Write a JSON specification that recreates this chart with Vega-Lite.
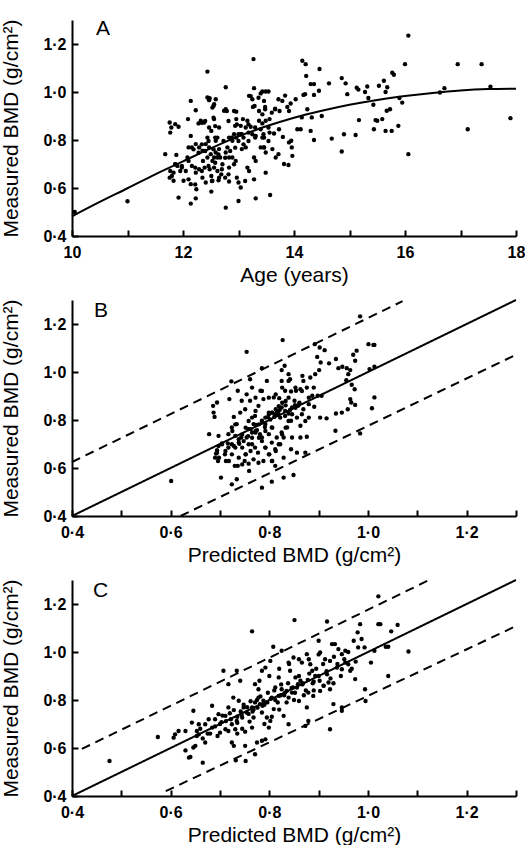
{
  "$schema": "https://vega.github.io/schema/vega-lite/v6.json",
  "background": "white",
  "padding": {"left": 0, "top": 18, "right": 0, "bottom": 0},
  "spacing": 64,
  "bounds": "flush",
  "config": {
    "view": {"stroke": null},
    "axis": {"domainColor": "black", "domainWidth": 2, "tickColor": "black", "tickWidth": 2, "tickSize": -6, "labelFont": "Liberation Sans", "labelFontSize": 16, "labelFontWeight": "bold", "labelColor": "black", "titleFont": "Liberation Sans", "titleFontSize": 21, "titleFontWeight": "normal", "titleColor": "black", "grid": false, "labelFlush": false, "labelOverlap": false},
    "axisY": {"titlePadding": 21, "labelPadding": 12},
    "axisX": {"titlePadding": 4, "labelPadding": 14}
  },
  "datasets": {
    "a": [
{"age":11.0,"bmd":0.545},{"age":10.05,"bmd":0.5},{"age":16.06,"bmd":1.235},{"age":16.0,"bmd":1.116},{"age":16.95,"bmd":1.116},{"age":17.38,"bmd":1.116},{"age":16.71,"bmd":1.016},{"age":17.54,"bmd":1.022},{"age":17.13,"bmd":0.845},{"age":17.9,"bmd":0.891},{"age":16.06,"bmd":0.741},{"age":15.95,"bmd":0.956},{"age":15.9,"bmd":0.975},{"age":16.63,"bmd":0.998},
{"age":14.86,"bmd":1.058},{"age":14.93,"bmd":1.036},{"age":14.96,"bmd":0.991},{"age":14.9,"bmd":0.824},{"age":14.86,"bmd":0.752},{"age":15.11,"bmd":0.821},{"age":15.17,"bmd":0.883},{"age":15.13,"bmd":1.018},{"age":15.16,"bmd":1.01},{"age":15.28,"bmd":1.0},{"age":15.32,"bmd":1.023},{"age":15.34,"bmd":0.975},{"age":15.43,"bmd":0.947},{"age":15.44,"bmd":0.845},{"age":15.47,"bmd":0.883},{"age":15.5,"bmd":0.88},{"age":15.53,"bmd":1.026},{"age":15.62,"bmd":1.047},{"age":15.65,"bmd":1.0},{"age":15.59,"bmd":0.887},{"age":15.65,"bmd":0.838},{"age":15.67,"bmd":0.922},{"age":15.73,"bmd":0.928},{"age":15.76,"bmd":0.838},{"age":15.77,"bmd":1.08},{"age":15.8,"bmd":1.072},{"age":15.88,"bmd":0.859},{"age":15.68,"bmd":1.02},
{"age":14.15,"bmd":1.13},{"age":14.21,"bmd":1.116},{"age":14.22,"bmd":1.067},{"age":14.3,"bmd":1.033},{"age":14.36,"bmd":1.033},{"age":14.45,"bmd":1.005},{"age":14.46,"bmd":1.096},{"age":14.63,"bmd":1.036},{"age":14.68,"bmd":0.806},{"age":14.5,"bmd":0.9},{"age":14.32,"bmd":0.894},{"age":14.3,"bmd":0.838},{"age":14.36,"bmd":0.8},{"age":14.2,"bmd":0.991},{"age":14.17,"bmd":0.988},{"age":14.24,"bmd":0.928},{"age":14.12,"bmd":0.845},{"age":14.06,"bmd":0.845},{"age":14.03,"bmd":0.97},{"age":14.36,"bmd":0.988},{"age":14.14,"bmd":0.894},
{"age":13.96,"bmd":0.769},{"age":13.97,"bmd":0.734},{"age":13.9,"bmd":0.696},{"age":13.82,"bmd":0.7},{"age":13.8,"bmd":0.813},{"age":13.91,"bmd":0.79},{"age":13.95,"bmd":0.797},{"age":13.91,"bmd":0.921},{"age":13.94,"bmd":0.952},{"age":13.88,"bmd":0.938},{"age":13.84,"bmd":0.985},{"age":13.79,"bmd":0.963},{"age":13.74,"bmd":0.921},{"age":13.72,"bmd":0.97},{"age":13.73,"bmd":0.845},{"age":13.64,"bmd":0.827},{"age":13.67,"bmd":0.727},{"age":13.61,"bmd":0.762},{"age":13.72,"bmd":0.741},{"age":13.66,"bmd":0.928},{"age":13.6,"bmd":0.914},{"age":13.56,"bmd":0.887},{"age":13.54,"bmd":0.852},{"age":13.56,"bmd":0.831},{"age":13.57,"bmd":0.571},{"age":13.49,"bmd":0.664},{"age":13.46,"bmd":0.769},{"age":13.46,"bmd":0.81},{"age":13.48,"bmd":0.928},
{"age":13.27,"bmd":1.137},{"age":13.28,"bmd":1.016},{"age":13.25,"bmd":0.97},{"age":13.26,"bmd":0.938},{"age":13.19,"bmd":0.984},{"age":13.43,"bmd":1.002},{"age":13.49,"bmd":1.002},{"age":13.54,"bmd":1.002},{"age":13.4,"bmd":0.994},{"age":13.46,"bmd":0.963},{"age":13.37,"bmd":0.921},{"age":13.43,"bmd":0.907},{"age":13.37,"bmd":0.88},{"age":13.43,"bmd":0.869},{"age":13.49,"bmd":0.88},{"age":13.4,"bmd":0.845},{"age":13.3,"bmd":0.852},{"age":13.25,"bmd":0.824},{"age":13.22,"bmd":0.855},{"age":13.18,"bmd":0.831},{"age":13.31,"bmd":0.817},{"age":13.43,"bmd":0.81},{"age":13.4,"bmd":0.769},{"age":13.46,"bmd":0.769},{"age":13.49,"bmd":0.748},{"age":13.28,"bmd":0.727},{"age":13.31,"bmd":0.713},{"age":13.13,"bmd":0.769},{"age":13.16,"bmd":0.685},{"age":13.19,"bmd":0.671},{"age":13.28,"bmd":0.636},{"age":13.31,"bmd":0.557},{"age":13.06,"bmd":0.762},{"age":13.09,"bmd":0.81},{"age":13.04,"bmd":0.824},{"age":13.13,"bmd":0.852},{"age":13.16,"bmd":0.88},{"age":13.08,"bmd":0.887},{"age":13.04,"bmd":0.859},
{"age":12.77,"bmd":1.02},{"age":12.77,"bmd":0.928},{"age":12.74,"bmd":0.922},{"age":12.92,"bmd":0.921},{"age":12.96,"bmd":0.887},{"age":12.94,"bmd":0.859},{"age":13.0,"bmd":0.824},{"age":12.92,"bmd":0.824},{"age":12.96,"bmd":0.81},{"age":12.89,"bmd":0.797},{"age":12.83,"bmd":0.81},{"age":12.8,"bmd":0.769},{"age":12.77,"bmd":0.748},{"age":12.83,"bmd":0.727},{"age":12.89,"bmd":0.727},{"age":12.95,"bmd":0.713},{"age":12.92,"bmd":0.699},{"age":12.83,"bmd":0.685},{"age":12.83,"bmd":0.627},{"age":12.76,"bmd":0.643},{"age":12.69,"bmd":0.657},{"age":13.0,"bmd":0.623},{"age":13.04,"bmd":0.602},{"age":13.0,"bmd":0.546},{"age":12.77,"bmd":0.518},{"age":12.71,"bmd":0.699},{"age":12.67,"bmd":0.727},{"age":12.65,"bmd":0.762},{"age":12.62,"bmd":0.81},{"age":12.59,"bmd":0.797},{"age":12.65,"bmd":0.852},{"age":12.56,"bmd":0.887},{"age":12.53,"bmd":0.935},{"age":12.56,"bmd":0.949},{"age":12.59,"bmd":0.97},{"age":12.47,"bmd":0.966},{"age":12.44,"bmd":0.977},
{"age":12.44,"bmd":1.085},{"age":12.38,"bmd":0.873},{"age":12.32,"bmd":0.88},{"age":12.28,"bmd":0.869},{"age":12.23,"bmd":0.924},{"age":12.14,"bmd":0.963},{"age":12.09,"bmd":0.887},{"age":12.14,"bmd":0.817},{"age":12.1,"bmd":0.769},{"age":12.16,"bmd":0.769},{"age":12.23,"bmd":0.783},{"age":12.29,"bmd":0.769},{"age":12.35,"bmd":0.755},{"age":12.41,"bmd":0.783},{"age":12.44,"bmd":0.81},{"age":12.47,"bmd":0.769},{"age":12.5,"bmd":0.741},{"age":12.44,"bmd":0.727},{"age":12.36,"bmd":0.713},{"age":12.39,"bmd":0.685},{"age":12.29,"bmd":0.678},{"age":12.23,"bmd":0.664},{"age":12.16,"bmd":0.692},{"age":12.08,"bmd":0.727},{"age":12.05,"bmd":0.671},{"age":12.14,"bmd":0.616},{"age":12.24,"bmd":0.595},{"age":12.35,"bmd":0.643},{"age":12.41,"bmd":0.623},{"age":12.48,"bmd":0.678},{"age":12.51,"bmd":0.65},{"age":12.53,"bmd":0.63},{"age":12.51,"bmd":0.585},{"age":12.14,"bmd":0.535},{"age":12.23,"bmd":0.557},{"age":12.53,"bmd":0.713},{"age":12.56,"bmd":0.727},{"age":12.59,"bmd":0.748},{"age":12.62,"bmd":0.727},{"age":12.56,"bmd":0.685},{"age":12.62,"bmd":0.671},{"age":12.65,"bmd":0.643},{"age":12.51,"bmd":0.838},{"age":12.47,"bmd":0.852},
{"age":11.76,"bmd":0.873},{"age":11.79,"bmd":0.852},{"age":11.77,"bmd":0.831},{"age":11.86,"bmd":0.866},{"age":11.92,"bmd":0.855},{"age":11.68,"bmd":0.741},{"age":11.88,"bmd":0.738},{"age":11.86,"bmd":0.699},{"age":11.9,"bmd":0.692},{"age":11.77,"bmd":0.671},{"age":11.8,"bmd":0.65},{"age":11.83,"bmd":0.664},{"age":11.76,"bmd":0.643},{"age":11.83,"bmd":0.63},{"age":11.92,"bmd":0.56},{"age":11.98,"bmd":0.692},{"age":12.01,"bmd":0.63},{"age":11.95,"bmd":0.671},
{"age":12.48,"bmd":0.974},{"age":12.55,"bmd":0.942},{"age":12.79,"bmd":0.921},{"age":12.96,"bmd":0.918},{"age":13.22,"bmd":0.983},{"age":13.36,"bmd":0.976},{"age":13.29,"bmd":0.942},{"age":13.48,"bmd":0.938},{"age":13.66,"bmd":0.93},{"age":12.34,"bmd":0.872},{"age":12.4,"bmd":0.879},{"age":12.55,"bmd":0.893},{"age":12.58,"bmd":0.858},{"age":12.82,"bmd":0.879},{"age":12.97,"bmd":0.865},{"age":13.18,"bmd":0.865},{"age":13.06,"bmd":0.824},{"age":13.0,"bmd":0.796},{"age":12.88,"bmd":0.81},{"age":12.73,"bmd":0.796},{"age":12.58,"bmd":0.81},{"age":12.46,"bmd":0.796},{"age":12.34,"bmd":0.782},{"age":12.19,"bmd":0.761},{"age":12.28,"bmd":0.747},{"age":12.4,"bmd":0.754},{"age":12.55,"bmd":0.761},{"age":12.64,"bmd":0.74},{"age":12.76,"bmd":0.726},{"age":12.85,"bmd":0.754},{"age":12.94,"bmd":0.768},{"age":13.09,"bmd":0.782},{"age":13.18,"bmd":0.796},{"age":13.3,"bmd":0.81},{"age":13.45,"bmd":0.824},{"age":13.54,"bmd":0.796},{"age":12.1,"bmd":0.713},{"age":11.98,"bmd":0.685},{"age":11.86,"bmd":0.699},{"age":12.22,"bmd":0.685},{"age":12.34,"bmd":0.671},{"age":12.46,"bmd":0.692},{"age":12.58,"bmd":0.705},{"age":12.7,"bmd":0.678},{"age":12.82,"bmd":0.657},{"age":12.97,"bmd":0.643},{"age":13.12,"bmd":0.629},{"age":12.1,"bmd":0.636},{"age":12.22,"bmd":0.615},{"age":12.52,"bmd":0.629},{"age":12.64,"bmd":0.632}
    ],
    "curveA": [
{"age":10,"bmd":0.482},{"age":10.5,"bmd":0.542},{"age":11,"bmd":0.599},{"age":11.5,"bmd":0.657},{"age":12,"bmd":0.711},{"age":12.5,"bmd":0.765},{"age":13,"bmd":0.815},{"age":13.5,"bmd":0.857},{"age":14,"bmd":0.893},{"age":14.5,"bmd":0.922},{"age":15,"bmd":0.947},{"age":15.5,"bmd":0.967},{"age":16,"bmd":0.983},{"age":16.5,"bmd":0.996},{"age":17,"bmd":1.006},{"age":17.5,"bmd":1.012},{"age":18,"bmd":1.014}
    ],
    "b": [
{"pred":0.601,"bmd":0.546},{"pred":0.984,"bmd":1.232},{"pred":0.827,"bmd":1.133},{"pred":0.754,"bmd":1.084},{"pred":1.001,"bmd":1.116},{"pred":1.011,"bmd":1.113},{"pred":1.013,"bmd":1.113},{"pred":1.003,"bmd":1.012},{"pred":1.013,"bmd":1.022},{"pred":1.013,"bmd":0.894},{"pred":1.008,"bmd":0.849},{"pred":0.984,"bmd":0.744},{"pred":0.785,"bmd":0.518},{"pred":0.805,"bmd":0.543},{"pred":0.829,"bmd":0.56},{"pred":0.849,"bmd":0.571},{"pred":0.702,"bmd":0.56},{"pred":0.734,"bmd":0.553},{"pred":0.724,"bmd":0.532},{"pred":0.759,"bmd":0.588},{"pred":0.736,"bmd":0.609},{"pred":0.678,"bmd":0.741},{"pred":0.686,"bmd":0.859},{"pred":0.687,"bmd":0.831},{"pred":0.689,"bmd":0.813},{"pred":0.694,"bmd":0.873},{"pred":0.723,"bmd":0.961},{"pred":0.719,"bmd":0.887},{"pred":0.697,"bmd":0.734},{"pred":0.694,"bmd":0.674},{"pred":0.692,"bmd":0.66},{"pred":0.69,"bmd":0.643},{"pred":0.696,"bmd":0.629},{"pred":0.704,"bmd":0.702},{"pred":0.697,"bmd":0.692},{"pred":0.717,"bmd":0.685},{"pred":0.712,"bmd":0.629},{"pred":0.73,"bmd":0.609},
{"pred":0.892,"bmd":1.116},{"pred":0.902,"bmd":1.102},{"pred":0.912,"bmd":1.091},{"pred":0.897,"bmd":1.063},{"pred":0.904,"bmd":1.04},{"pred":0.901,"bmd":1.008},{"pred":0.893,"bmd":0.991},{"pred":0.883,"bmd":0.977},{"pred":0.867,"bmd":0.984},{"pred":0.869,"bmd":0.963},{"pred":0.876,"bmd":0.935},{"pred":0.863,"bmd":0.928},{"pred":0.854,"bmd":0.922},{"pred":0.844,"bmd":0.919},{"pred":0.89,"bmd":0.935},{"pred":0.898,"bmd":0.901},{"pred":0.906,"bmd":0.901},{"pred":0.887,"bmd":0.901},{"pred":0.921,"bmd":1.036},{"pred":0.935,"bmd":1.054},{"pred":0.94,"bmd":1.016},{"pred":0.948,"bmd":1.022},{"pred":0.957,"bmd":1.016},{"pred":0.964,"bmd":1.008},{"pred":0.96,"bmd":0.991},{"pred":0.956,"bmd":0.966},{"pred":0.967,"bmd":0.947},{"pred":0.973,"bmd":0.928},{"pred":0.974,"bmd":1.047},{"pred":0.977,"bmd":1.089},{"pred":0.97,"bmd":1.072},{"pred":0.964,"bmd":0.887},{"pred":0.966,"bmd":0.873},{"pred":0.959,"bmd":0.845},{"pred":0.974,"bmd":0.863},{"pred":0.947,"bmd":0.831},{"pred":0.935,"bmd":0.827},{"pred":0.934,"bmd":0.755},{"pred":0.903,"bmd":0.81},{"pred":0.916,"bmd":0.807},{"pred":0.891,"bmd":0.855},{"pred":0.88,"bmd":0.81},{"pred":0.876,"bmd":0.73},{"pred":0.873,"bmd":0.664},{"pred":0.856,"bmd":0.664},{"pred":0.863,"bmd":0.727},{"pred":0.863,"bmd":0.776},
{"pred":0.839,"bmd":0.991},{"pred":0.842,"bmd":0.97},{"pred":0.825,"bmd":1.008},{"pred":0.831,"bmd":1.026},{"pred":0.825,"bmd":0.963},{"pred":0.832,"bmd":0.922},{"pred":0.82,"bmd":0.891},{"pred":0.809,"bmd":0.894},{"pred":0.825,"bmd":0.852},{"pred":0.832,"bmd":0.838},{"pred":0.815,"bmd":0.838},{"pred":0.805,"bmd":0.831},{"pred":0.81,"bmd":0.813},{"pred":0.822,"bmd":0.81},{"pred":0.832,"bmd":0.817},{"pred":0.839,"bmd":0.827},{"pred":0.846,"bmd":0.852},{"pred":0.851,"bmd":0.88},{"pred":0.858,"bmd":0.859},{"pred":0.844,"bmd":0.797},{"pred":0.836,"bmd":0.769},{"pred":0.825,"bmd":0.748},{"pred":0.829,"bmd":0.727},{"pred":0.822,"bmd":0.699},{"pred":0.846,"bmd":0.727},{"pred":0.844,"bmd":0.678},{"pred":0.829,"bmd":0.643},{"pred":0.805,"bmd":0.629},{"pred":0.812,"bmd":0.609},{"pred":0.8,"bmd":0.657},{"pred":0.792,"bmd":0.685},{"pred":0.785,"bmd":0.727},{"pred":0.799,"bmd":0.741},{"pred":0.805,"bmd":0.769},{"pred":0.792,"bmd":0.783},{"pred":0.785,"bmd":0.797},{"pred":0.799,"bmd":0.831},{"pred":0.785,"bmd":1.016},{"pred":0.795,"bmd":0.963},{"pred":0.782,"bmd":0.922},{"pred":0.788,"bmd":0.887},{"pred":0.778,"bmd":0.859},{"pred":0.771,"bmd":0.817},{"pred":0.768,"bmd":0.783},{"pred":0.775,"bmd":0.758},{"pred":0.765,"bmd":0.748},{"pred":0.758,"bmd":0.762},{"pred":0.754,"bmd":0.727},{"pred":0.765,"bmd":0.699},{"pred":0.771,"bmd":0.685},{"pred":0.777,"bmd":0.664},{"pred":0.762,"bmd":0.671},{"pred":0.752,"bmd":0.657},{"pred":0.745,"bmd":0.685},{"pred":0.738,"bmd":0.706},{"pred":0.731,"bmd":0.734},{"pred":0.724,"bmd":0.769},{"pred":0.734,"bmd":0.783},{"pred":0.728,"bmd":0.813},{"pred":0.741,"bmd":0.831},{"pred":0.751,"bmd":0.845},{"pred":0.761,"bmd":0.88},{"pred":0.754,"bmd":0.907},{"pred":0.744,"bmd":0.88},{"pred":0.736,"bmd":0.922},{"pred":0.761,"bmd":0.97},{"pred":0.765,"bmd":0.935},{"pred":0.743,"bmd":0.727},{"pred":0.75,"bmd":0.629},{"pred":0.768,"bmd":0.636},{"pred":0.758,"bmd":0.618},{"pred":0.724,"bmd":0.657},{"pred":0.717,"bmd":0.741},{"pred":0.724,"bmd":0.699},{"pred":0.71,"bmd":0.657},{"pred":0.788,"bmd":0.629},{"pred":0.778,"bmd":0.622},{"pred":0.805,"bmd":0.706},{"pred":0.815,"bmd":0.727},{"pred":0.812,"bmd":0.678},{"pred":0.856,"bmd":0.81},{"pred":0.869,"bmd":0.845},{"pred":0.88,"bmd":0.866},
{"pred":0.762,"bmd":0.762},{"pred":0.772,"bmd":0.748},{"pred":0.781,"bmd":0.741},{"pred":0.791,"bmd":0.771},{"pred":0.802,"bmd":0.802},{"pred":0.812,"bmd":0.823},{"pred":0.821,"bmd":0.842},{"pred":0.833,"bmd":0.861},{"pred":0.842,"bmd":0.842},{"pred":0.852,"bmd":0.862},{"pred":0.861,"bmd":0.872},{"pred":0.818,"bmd":0.828},{"pred":0.797,"bmd":0.812},{"pred":0.786,"bmd":0.79},{"pred":0.773,"bmd":0.779},{"pred":0.757,"bmd":0.733},{"pred":0.748,"bmd":0.712},{"pred":0.739,"bmd":0.701},{"pred":0.728,"bmd":0.692},{"pred":0.716,"bmd":0.702},
{"pred":0.704,"bmd":0.699},{"pred":0.711,"bmd":0.671},{"pred":0.694,"bmd":0.664},{"pred":0.698,"bmd":0.643},{"pred":0.718,"bmd":0.629},{"pred":0.731,"bmd":0.685},{"pred":0.738,"bmd":0.643},{"pred":0.745,"bmd":0.615},{"pred":0.752,"bmd":0.657},{"pred":0.758,"bmd":0.699},{"pred":0.765,"bmd":0.726},{"pred":0.772,"bmd":0.754},{"pred":0.779,"bmd":0.782},{"pred":0.785,"bmd":0.796},{"pred":0.792,"bmd":0.81},{"pred":0.799,"bmd":0.824},{"pred":0.806,"bmd":0.831},{"pred":0.813,"bmd":0.845},{"pred":0.819,"bmd":0.858},{"pred":0.826,"bmd":0.872},{"pred":0.833,"bmd":0.879},{"pred":0.839,"bmd":0.893},{"pred":0.779,"bmd":0.726},{"pred":0.785,"bmd":0.712},{"pred":0.792,"bmd":0.685},{"pred":0.799,"bmd":0.657},{"pred":0.806,"bmd":0.629},{"pred":0.813,"bmd":0.671},{"pred":0.819,"bmd":0.699},{"pred":0.826,"bmd":0.74},{"pred":0.833,"bmd":0.768},{"pred":0.839,"bmd":0.796},{"pred":0.846,"bmd":0.824},{"pred":0.853,"bmd":0.851},{"pred":0.86,"bmd":0.865},{"pred":0.866,"bmd":0.824},{"pred":0.873,"bmd":0.796},{"pred":0.772,"bmd":0.838},{"pred":0.765,"bmd":0.81},{"pred":0.758,"bmd":0.796},{"pred":0.752,"bmd":0.768},{"pred":0.745,"bmd":0.74},{"pred":0.738,"bmd":0.72},{"pred":0.725,"bmd":0.754},{"pred":0.731,"bmd":0.782},{"pred":0.772,"bmd":0.893},{"pred":0.785,"bmd":0.921},{"pred":0.799,"bmd":0.893},{"pred":0.813,"bmd":0.907},{"pred":0.826,"bmd":0.935},{"pred":0.839,"bmd":0.963},{"pred":0.853,"bmd":0.935},{"pred":0.866,"bmd":0.921},{"pred":0.88,"bmd":0.893},{"pred":0.806,"bmd":0.768},{"pred":0.792,"bmd":0.754}
    ],
    "linesB": [
{"pred":0.4,"bmd":0.4,"kind":"fit"},{"pred":1.3,"bmd":1.3,"kind":"fit"},
{"pred":0.4,"bmd":0.625,"kind":"upper"},{"pred":1.07,"bmd":1.295,"kind":"upper"},
{"pred":0.62,"bmd":0.4,"kind":"lower"},{"pred":1.3,"bmd":1.072,"kind":"lower"}
    ],
    "c": [
{"pred":0.476,"bmd":0.546},{"pred":0.574,"bmd":0.646},{"pred":1.021,"bmd":1.232},{"pred":0.851,"bmd":1.133},{"pred":0.765,"bmd":1.086},{"pred":0.917,"bmd":1.127},{"pred":0.984,"bmd":1.116},{"pred":1.021,"bmd":1.116},{"pred":1.025,"bmd":1.116},{"pred":1.06,"bmd":1.113},{"pred":1.047,"bmd":1.086},{"pred":1.082,"bmd":1.002},{"pred":1.006,"bmd":0.956},{"pred":1.013,"bmd":1.005},{"pred":0.993,"bmd":1.019},{"pred":0.987,"bmd":1.054},{"pred":1.036,"bmd":1.022},{"pred":1.041,"bmd":1.022},{"pred":1.041,"bmd":0.9},{"pred":0.994,"bmd":0.845},{"pred":0.995,"bmd":0.796},{"pred":0.923,"bmd":0.678},{"pred":0.873,"bmd":0.692},{"pred":0.879,"bmd":0.713},{"pred":0.829,"bmd":0.734},{"pred":0.839,"bmd":0.699},{"pred":0.771,"bmd":0.574},{"pred":0.752,"bmd":0.546},{"pred":0.732,"bmd":0.549},{"pred":0.724,"bmd":0.623},{"pred":0.728,"bmd":0.609},{"pred":0.751,"bmd":0.609},{"pred":0.775,"bmd":0.623},{"pred":0.785,"bmd":0.63},{"pred":0.792,"bmd":0.636},{"pred":0.665,"bmd":0.539},{"pred":0.64,"bmd":0.563},{"pred":0.637,"bmd":0.56},{"pred":0.63,"bmd":0.59},{"pred":0.609,"bmd":0.657},{"pred":0.606,"bmd":0.643},{"pred":0.616,"bmd":0.671},{"pred":0.63,"bmd":0.671},{"pred":0.646,"bmd":0.755},{"pred":0.643,"bmd":0.706},{"pred":0.657,"bmd":0.699},{"pred":0.653,"bmd":0.671},{"pred":0.657,"bmd":0.657},{"pred":0.653,"bmd":0.65},{"pred":0.67,"bmd":0.699},{"pred":0.67,"bmd":0.623},{"pred":0.65,"bmd":0.609},{"pred":0.646,"bmd":0.602},{"pred":0.684,"bmd":0.776},{"pred":0.677,"bmd":0.72},{"pred":0.684,"bmd":0.685},{"pred":0.697,"bmd":0.741},{"pred":0.7,"bmd":0.664},{"pred":0.711,"bmd":0.678},{"pred":0.717,"bmd":0.671},{"pred":0.711,"bmd":0.734},{"pred":0.717,"bmd":0.769},{"pred":0.707,"bmd":0.922},{"pred":0.734,"bmd":0.922},{"pred":0.717,"bmd":0.866},{"pred":0.741,"bmd":0.88},{"pred":0.727,"bmd":0.81},{"pred":0.738,"bmd":0.797},{"pred":0.748,"bmd":0.769},{"pred":0.754,"bmd":0.748},{"pred":0.745,"bmd":0.727},{"pred":0.734,"bmd":0.713},{"pred":0.724,"bmd":0.699},{"pred":0.731,"bmd":0.678},{"pred":0.751,"bmd":0.668},{"pred":0.765,"bmd":0.685},{"pred":0.768,"bmd":0.727},{"pred":0.765,"bmd":0.769},{"pred":0.771,"bmd":0.79},{"pred":0.781,"bmd":0.783},{"pred":0.778,"bmd":0.81},{"pred":0.788,"bmd":0.797},{"pred":0.785,"bmd":0.748},{"pred":0.795,"bmd":0.727},{"pred":0.799,"bmd":0.685},{"pred":0.802,"bmd":0.713},{"pred":0.809,"bmd":0.762},{"pred":0.771,"bmd":0.866},{"pred":0.778,"bmd":0.845},{"pred":0.785,"bmd":0.922},{"pred":0.792,"bmd":0.935},{"pred":0.808,"bmd":1.022},{"pred":0.802,"bmd":0.963},{"pred":0.819,"bmd":0.894},{"pred":0.812,"bmd":0.852},{"pred":0.805,"bmd":0.81},{"pred":0.819,"bmd":0.817},{"pred":0.825,"bmd":0.845},{"pred":0.832,"bmd":0.831},{"pred":0.839,"bmd":0.81},{"pred":0.846,"bmd":0.831},{"pred":0.825,"bmd":1.005},{"pred":0.839,"bmd":0.956},{"pred":0.849,"bmd":0.977},{"pred":0.842,"bmd":0.922},{"pred":0.853,"bmd":0.894},{"pred":0.863,"bmd":0.88},{"pred":0.856,"bmd":0.852},{"pred":0.866,"bmd":0.956},{"pred":0.876,"bmd":0.991},{"pred":0.883,"bmd":0.949},{"pred":0.887,"bmd":0.922},{"pred":0.893,"bmd":0.9},{"pred":0.879,"bmd":0.831},{"pred":0.889,"bmd":0.817},{"pred":0.903,"bmd":0.838},{"pred":0.91,"bmd":0.859},{"pred":0.9,"bmd":1.047},{"pred":0.903,"bmd":0.998},{"pred":0.913,"bmd":0.97},{"pred":0.923,"bmd":0.963},{"pred":0.927,"bmd":1.033},{"pred":0.933,"bmd":1.033},{"pred":0.94,"bmd":1.012},{"pred":0.947,"bmd":0.991},{"pred":0.954,"bmd":1.005},{"pred":0.937,"bmd":0.935},{"pred":0.947,"bmd":0.928},{"pred":0.96,"bmd":0.949},{"pred":0.964,"bmd":0.922},{"pred":0.974,"bmd":0.887},{"pred":0.917,"bmd":0.907},{"pred":0.923,"bmd":0.845},{"pred":0.92,"bmd":0.873},{"pred":0.93,"bmd":0.783},{"pred":0.947,"bmd":0.769},{"pred":0.947,"bmd":0.755},{"pred":0.971,"bmd":1.047},{"pred":0.979,"bmd":1.082},{"pred":0.98,"bmd":1.019},{"pred":0.954,"bmd":0.956},{"pred":0.876,"bmd":0.769},{"pred":0.86,"bmd":0.796},
{"pred":0.758,"bmd":0.742},{"pred":0.766,"bmd":0.752},{"pred":0.776,"bmd":0.768},{"pred":0.786,"bmd":0.776},{"pred":0.796,"bmd":0.79},{"pred":0.812,"bmd":0.8},{"pred":0.823,"bmd":0.82},{"pred":0.835,"bmd":0.838},{"pred":0.848,"bmd":0.852},{"pred":0.858,"bmd":0.866},{"pred":0.868,"bmd":0.87},{"pred":0.878,"bmd":0.884},{"pred":0.89,"bmd":0.876},{"pred":0.9,"bmd":0.9},{"pred":0.744,"bmd":0.738},{"pred":0.735,"bmd":0.73},{"pred":0.722,"bmd":0.72},{"pred":0.703,"bmd":0.708},{"pred":0.69,"bmd":0.69},{"pred":0.68,"bmd":0.66},
{"pred":0.705,"bmd":0.735},{"pred":0.712,"bmd":0.712},{"pred":0.72,"bmd":0.745},{"pred":0.728,"bmd":0.758},{"pred":0.735,"bmd":0.705},{"pred":0.742,"bmd":0.752},{"pred":0.748,"bmd":0.78},{"pred":0.755,"bmd":0.77},{"pred":0.762,"bmd":0.795},{"pred":0.768,"bmd":0.76},{"pred":0.775,"bmd":0.8},{"pred":0.782,"bmd":0.815},{"pred":0.79,"bmd":0.78},{"pred":0.797,"bmd":0.83},{"pred":0.803,"bmd":0.805},{"pred":0.81,"bmd":0.84},{"pred":0.817,"bmd":0.79},{"pred":0.824,"bmd":0.865},{"pred":0.83,"bmd":0.82},{"pred":0.838,"bmd":0.87},{"pred":0.845,"bmd":0.85},{"pred":0.852,"bmd":0.83},{"pred":0.86,"bmd":0.9},{"pred":0.867,"bmd":0.865},{"pred":0.874,"bmd":0.84},{"pred":0.881,"bmd":0.91},{"pred":0.888,"bmd":0.87},{"pred":0.895,"bmd":0.93},{"pred":0.902,"bmd":0.88},{"pred":0.909,"bmd":0.95},{"pred":0.916,"bmd":0.92},{"pred":0.924,"bmd":0.89},{"pred":0.931,"bmd":0.98},{"pred":0.938,"bmd":0.95},{"pred":0.945,"bmd":0.9},{"pred":0.952,"bmd":0.97},{"pred":0.96,"bmd":1.0},{"pred":0.967,"bmd":0.93},{"pred":0.975,"bmd":0.96},{"pred":0.69,"bmd":0.72},{"pred":0.695,"bmd":0.65},{"pred":0.7,"bmd":0.7},{"pred":0.66,"bmd":0.68},{"pred":0.665,"bmd":0.64},{"pred":0.675,"bmd":0.66},{"pred":0.735,"bmd":0.66},{"pred":0.745,"bmd":0.68},{"pred":0.76,"bmd":0.71},{"pred":0.79,"bmd":0.7},{"pred":0.805,"bmd":0.73},{"pred":0.82,"bmd":0.76},{"pred":0.835,"bmd":0.79},{"pred":0.85,"bmd":0.8},{"pred":0.87,"bmd":0.82},{"pred":0.89,"bmd":0.84},{"pred":0.91,"bmd":0.86},{"pred":0.93,"bmd":0.87},{"pred":0.78,"bmd":0.88},{"pred":0.8,"bmd":0.9},{"pred":0.82,"bmd":0.93},{"pred":0.84,"bmd":0.95},{"pred":0.86,"bmd":0.97},{"pred":0.88,"bmd":0.97},{"pred":0.9,"bmd":0.99}
    ],
    "linesC": [
{"pred":0.4,"bmd":0.4,"kind":"fit"},{"pred":1.3,"bmd":1.3,"kind":"fit"},
{"pred":0.42,"bmd":0.596,"kind":"upper"},{"pred":1.12,"bmd":1.296,"kind":"upper"},
{"pred":0.59,"bmd":0.42,"kind":"lower"},{"pred":1.3,"bmd":1.108,"kind":"lower"}
    ]
  },
  "vconcat": [
    {
      "width": 444, "height": 216,
      "layer": [
        {
          "data": {"name": "a"},
          "mark": {"type": "circle", "size": 19, "color": "black", "opacity": 1},
          "encoding": {
            "x": {"field": "age", "type": "quantitative", "title": "Age (years)", "scale": {"domain": [10, 18], "nice": false, "zero": false}, "axis": {"values": [10, 11, 12, 13, 14, 15, 16, 17, 18], "labelExpr": "datum.value % 2 == 0 ? format(datum.value, 'd') : ''"}},
            "y": {"field": "bmd", "type": "quantitative", "title": "Measured BMD (g/cm²)", "scale": {"domain": [0.4, 1.3], "nice": false, "zero": false}, "axis": {"values": [0.4, 0.5, 0.6, 0.7, 0.8, 0.9, 1.0, 1.1, 1.2, 1.3], "labelExpr": "round(datum.value*10) % 2 == 0 ? replace(format(datum.value, '.1f'), '.', '·') : ''"}}
          }
        },
        {
          "data": {"name": "curveA"},
          "mark": {"type": "line", "color": "black", "strokeWidth": 2, "interpolate": "monotone"},
          "encoding": {
            "x": {"field": "age", "type": "quantitative", "title": "Age (years)"},
            "y": {"field": "bmd", "type": "quantitative", "title": "Measured BMD (g/cm²)"}
          }
        },
        {
          "data": {"values": [{"label": "A", "age": 10.56, "bmd": 1.262}]},
          "mark": {"type": "text", "font": "Liberation Sans", "fontSize": 21, "color": "black"},
          "encoding": {
            "x": {"field": "age", "type": "quantitative", "title": "Age (years)"},
            "y": {"field": "bmd", "type": "quantitative", "title": "Measured BMD (g/cm²)"},
            "text": {"field": "label"}
          }
        }
      ]
    },
    {
      "width": 444, "height": 216,
      "layer": [
        {
          "data": {"name": "b"},
          "mark": {"type": "circle", "size": 19, "color": "black", "opacity": 1},
          "encoding": {
            "x": {"field": "pred", "type": "quantitative", "title": "Predicted BMD (g/cm²)", "scale": {"domain": [0.4, 1.3], "nice": false, "zero": false}, "axis": {"values": [0.4, 0.5, 0.6, 0.7, 0.8, 0.9, 1.0, 1.1, 1.2, 1.3], "labelExpr": "round(datum.value*10) % 2 == 0 ? replace(format(datum.value, '.1f'), '.', '·') : ''"}},
            "y": {"field": "bmd", "type": "quantitative", "title": "Measured BMD (g/cm²)", "scale": {"domain": [0.4, 1.3], "nice": false, "zero": false}, "axis": {"values": [0.4, 0.5, 0.6, 0.7, 0.8, 0.9, 1.0, 1.1, 1.2, 1.3], "labelExpr": "round(datum.value*10) % 2 == 0 ? replace(format(datum.value, '.1f'), '.', '·') : ''"}}
          }
        },
        {
          "data": {"name": "linesB"},
          "mark": {"type": "line", "color": "black", "strokeWidth": 2},
          "encoding": {
            "x": {"field": "pred", "type": "quantitative", "title": "Predicted BMD (g/cm²)"},
            "y": {"field": "bmd", "type": "quantitative", "title": "Measured BMD (g/cm²)"},
            "detail": {"field": "kind"},
            "strokeDash": {"field": "kind", "type": "nominal", "scale": {"domain": ["fit", "upper", "lower"], "range": [[1, 0], [9, 6], [9, 6]]}, "legend": null}
          }
        },
        {
          "data": {"values": [{"label": "B", "pred": 0.459, "bmd": 1.254}]},
          "mark": {"type": "text", "font": "Liberation Sans", "fontSize": 21, "color": "black"},
          "encoding": {
            "x": {"field": "pred", "type": "quantitative", "title": "Predicted BMD (g/cm²)"},
            "y": {"field": "bmd", "type": "quantitative", "title": "Measured BMD (g/cm²)"},
            "text": {"field": "label"}
          }
        }
      ]
    },
    {
      "width": 444, "height": 216,
      "layer": [
        {
          "data": {"name": "c"},
          "mark": {"type": "circle", "size": 19, "color": "black", "opacity": 1},
          "encoding": {
            "x": {"field": "pred", "type": "quantitative", "title": "Predicted BMD (g/cm²)", "scale": {"domain": [0.4, 1.3], "nice": false, "zero": false}, "axis": {"values": [0.4, 0.5, 0.6, 0.7, 0.8, 0.9, 1.0, 1.1, 1.2, 1.3], "labelExpr": "round(datum.value*10) % 2 == 0 ? replace(format(datum.value, '.1f'), '.', '·') : ''"}},
            "y": {"field": "bmd", "type": "quantitative", "title": "Measured BMD (g/cm²)", "scale": {"domain": [0.4, 1.3], "nice": false, "zero": false}, "axis": {"values": [0.4, 0.5, 0.6, 0.7, 0.8, 0.9, 1.0, 1.1, 1.2, 1.3], "labelExpr": "round(datum.value*10) % 2 == 0 ? replace(format(datum.value, '.1f'), '.', '·') : ''"}}
          }
        },
        {
          "data": {"name": "linesC"},
          "mark": {"type": "line", "color": "black", "strokeWidth": 2},
          "encoding": {
            "x": {"field": "pred", "type": "quantitative", "title": "Predicted BMD (g/cm²)"},
            "y": {"field": "bmd", "type": "quantitative", "title": "Measured BMD (g/cm²)"},
            "detail": {"field": "kind"},
            "strokeDash": {"field": "kind", "type": "nominal", "scale": {"domain": ["fit", "upper", "lower"], "range": [[1, 0], [9, 6], [9, 6]]}, "legend": null}
          }
        },
        {
          "data": {"values": [{"label": "C", "pred": 0.458, "bmd": 1.256}]},
          "mark": {"type": "text", "font": "Liberation Sans", "fontSize": 21, "color": "black"},
          "encoding": {
            "x": {"field": "pred", "type": "quantitative", "title": "Predicted BMD (g/cm²)"},
            "y": {"field": "bmd", "type": "quantitative", "title": "Measured BMD (g/cm²)"},
            "text": {"field": "label"}
          }
        }
      ]
    }
  ]
}
